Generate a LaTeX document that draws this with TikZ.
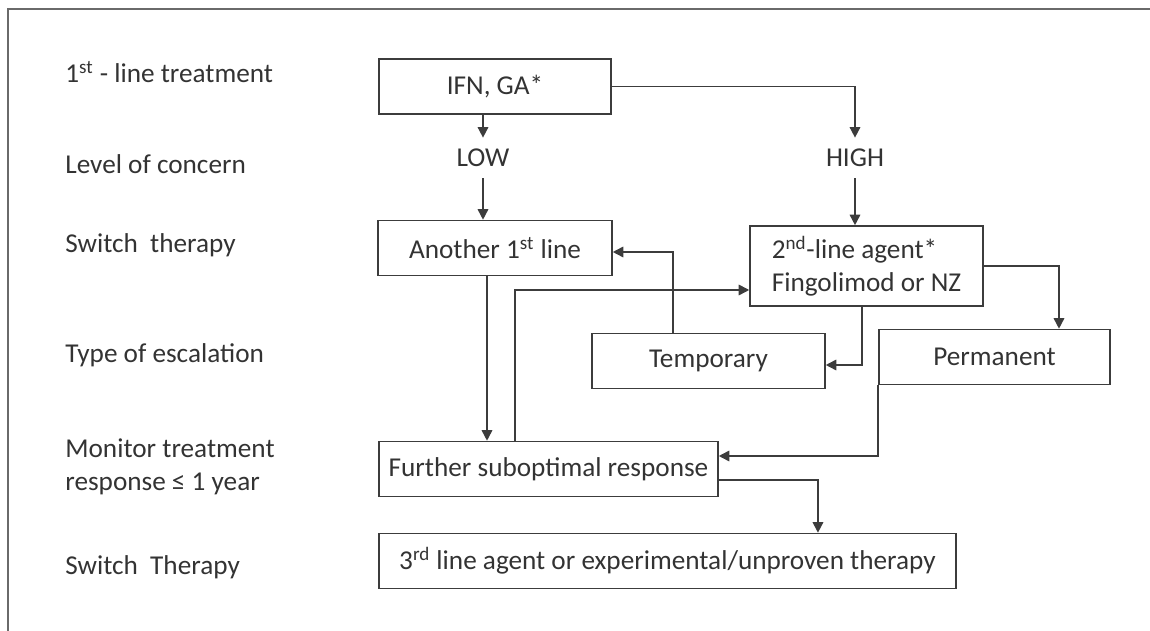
\documentclass[tikz,border=0pt]{standalone}
\usepackage{fontspec}
\setmainfont{Carlito}
\usetikzlibrary{arrows.meta}
\definecolor{inkgray}{HTML}{333333}
\definecolor{boxgray}{HTML}{3C3C3C}
\definecolor{framegray}{HTML}{6A6A6A}

\begin{document}
\begin{tikzpicture}[x=0.02cm,y=-0.02cm,
  font=\fontsize{15.5}{18.5}\selectfont, text=inkgray,
  box/.style={draw=boxgray, line width=0.9pt, minimum height=1.1cm, inner sep=2pt},
  lvl/.style={anchor=base west, inner sep=0pt},
  word/.style={minimum height=0.8cm, inner sep=0pt},
  arr/.style={draw=boxgray, line width=0.9pt, -{Triangle[length=6pt,width=6pt]}}]
\useasboundingbox (0,0) rectangle (1150,631);
\draw[framegray, line width=1.2pt] (8,631) -- (8,9) -- (1150,9);

\node[lvl] (l1) at (65,83) {1\textsuperscript{st} - line treatment};
\node[lvl] (l2) at (65,174) {Level of concern};
\node[lvl] (l3) at (65,253) {Switch\ \ therapy};
\node[lvl] (l4) at (65,363) {Type of escalation};
\node[lvl, anchor=west, align=left] (l5) at (65,467) {Monitor treatment\\response ≤ 1 year};
\node[lvl] (l6) at (65,574) {Switch\ \ Therapy};

\node[box, minimum width=4.64cm] (ifn) at (495,86.5) {IFN, GA*};
\node[word] (low) at (483,158) {LOW};
\node[word] (high) at (855,158) {HIGH};
\node[box, minimum width=4.68cm] (another) at (495,248) {Another 1\textsuperscript{st} line};
\node[box, minimum width=4.66cm, minimum height=1.6cm, align=left] (second) at (866.5,266) {2\textsuperscript{nd}-line agent*\\Fingolimod or NZ};
\node[box, minimum width=4.66cm] (temp) at (708.5,361) {Temporary};
\node[box, minimum width=4.62cm] (perm) at (994.5,357) {Permanent};
\node[box, minimum width=6.78cm] (further) at (548.5,469) {Further suboptimal response};
\node[box, minimum width=11.54cm] (third) at (667.5,561) {3\textsuperscript{rd} line agent or experimental/unproven therapy};

\draw[arr] (ifn.south -| low) -- (low);
\draw[arr] (low) -- (low |- another.north);
\draw[arr] (ifn.east) -| (high);
\draw[arr] (high) -- (high |- second.north);
\draw[arr] ([xshift=-0.16cm]another.south) -- ([xshift=-0.16cm]another.south |- further.north);
\draw[arr] ([xshift=-0.67cm]further.north) |- ([yshift=-0.48cm]second.west);
\draw[arr] ([xshift=-0.71cm]temp.north) |- ([yshift=-0.08cm]another.east);
\draw[arr] ([xshift=-0.09cm]second.south) |- ([yshift=-0.08cm]temp.east);
\draw[arr] (second.east) -| ([xshift=1.29cm]perm.north);
\draw[arr] (perm.south west) |- ([yshift=0.26cm]further.east);
\draw[arr] ([yshift=-0.22cm]further.east) -| ([xshift=3.01cm]third.north);
\end{tikzpicture}
\end{document}
